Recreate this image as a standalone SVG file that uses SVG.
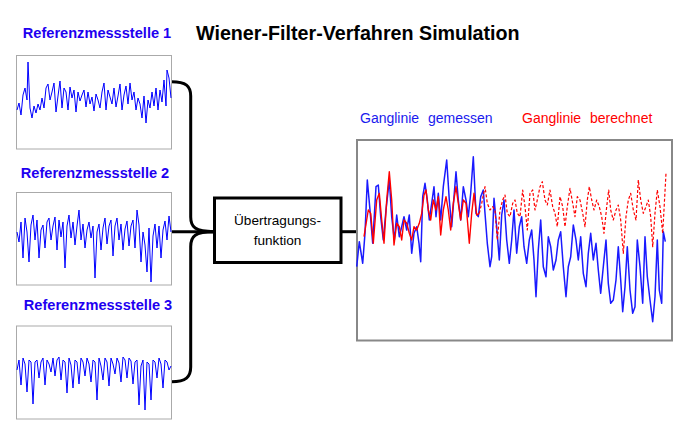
<svg xmlns="http://www.w3.org/2000/svg" width="689" height="443" viewBox="0 0 689 443">
<style>
.lbl{font-family:"Liberation Sans",Arial,sans-serif;font-weight:bold;font-size:14.6px;fill:#1E00F0;text-anchor:middle}
.title{font-family:"Liberation Sans",Arial,sans-serif;font-weight:bold;font-size:19.7px;fill:#000}
.leg{font-family:"Liberation Sans",Arial,sans-serif;font-size:14px;word-spacing:5px}
.frame{fill:#fff;stroke:#aaa;stroke-width:1}
.bigframe{fill:#fff;stroke:#888;stroke-width:2}
.wave{fill:none;stroke:#0000FF;stroke-width:1;stroke-linejoin:round}
.conn{fill:none;stroke:#000;stroke-width:3}
.boxt{font-family:"Liberation Sans",Arial,sans-serif;font-size:13.6px;fill:#000;text-anchor:middle}
</style>
<rect width="689" height="443" fill="#fff"/>
<text class="title" x="196" y="40">Wiener-Filter-Verfahren Simulation</text>

<g id="connectors">
<path class="conn" d="M171.5,81.7 C186,81.7 190.7,86 190.7,96 L190.7,217 C190.7,227 195,231.7 214,231.7"/>
<path class="conn" d="M171.5,381.7 C186,381.7 190.7,377 190.7,367 L190.7,246.7 C190.7,236 195,231.7 214,231.7"/>
<path class="conn" d="M171.5,231.7 L214,231.7"/>
<path class="conn" d="M341,231.7 L357,231.7"/>
</g>

<g id="ref1">
<text class="lbl" x="97" y="38">Referenzmessstelle 1</text>
<rect class="frame" x="16.5" y="55.5" width="155" height="93.5"/>
<polyline class="wave" points="17,110 19,103 21,115 23,95 25,88 27,100 28,62 30,108 32,118 34,106 36,113 38,104 40,110 42,98 44,108 46,88 48,84 50,100 52,92 54,83 56,112 58,96 60,81 62,108 64,88 66,92 68,110 70,87 72,98 74,90 76,112 78,92 80,101 82,95 84,90 86,107 88,92 90,104 92,97 94,111 96,94 98,100 100,108 102,92 104,83 106,110 108,90 110,97 112,104 114,88 116,107 118,96 120,84 122,110 124,95 126,86 128,104 130,83 132,100 134,92 136,110 138,98 140,104 142,118 144,96 146,123 148,100 150,108 152,92 154,106 156,88 158,110 160,90 162,102 164,80 166,106 167,70 169,78 171,98"/>
</g>

<g id="ref2">
<text class="lbl" x="95" y="178">Referenzmessstelle 2</text>
<rect class="frame" x="16.5" y="192.5" width="155" height="92.5"/>
<polyline class="wave" points="17,232 19,242 21,222 23,258 25,218 27,232 29,262 31,225 33,215 35,240 37,220 39,258 41,230 43,225 45,248 47,222 49,218 51,240 53,226 55,217 57,250 59,220 61,237 63,222 65,268 67,226 69,215 71,238 73,222 75,245 77,226 79,210 81,240 83,224 85,248 87,230 89,222 91,238 93,226 95,278 97,232 99,224 101,250 103,228 105,218 107,244 109,226 111,220 113,256 115,226 117,218 119,240 121,224 123,250 125,229 127,221 129,246 131,226 133,220 135,248 137,210 139,225 141,262 143,232 145,245 147,272 149,228 151,282 153,236 155,224 157,248 159,226 161,258 163,230 165,221 167,240 169,216 171,232"/>
</g>

<g id="ref3">
<text class="lbl" x="98" y="310">Referenzmessstelle 3</text>
<rect class="frame" x="16.5" y="326" width="155" height="93"/>
<polyline class="wave" points="17,370 19,360 21,385 23,358 25,364 27,392 29,360 31,362 33,404 35,362 37,360 39,378 41,362 43,358 45,385 47,360 49,364 51,372 53,358 55,376 57,360 59,357 61,380 63,360 65,362 67,393 69,358 71,365 73,388 75,360 77,362 79,384 81,358 83,362 85,376 87,358 89,364 91,382 93,360 95,362 97,400 99,358 101,366 103,380 105,358 107,362 109,386 111,358 113,364 115,374 117,358 119,363 121,382 123,357 125,360 127,378 129,358 131,361 133,384 135,362 137,360 139,405 141,366 143,360 145,410 147,362 149,364 151,400 153,360 155,362 157,378 159,358 161,364 163,388 165,360 167,362 169,370 171,366"/>
</g>

<g id="transfer">
<rect x="214.5" y="198" width="126.5" height="64.5" fill="#fff" stroke="#000" stroke-width="3"/>
<text class="boxt" x="277.5" y="225">Übertragungs-</text>
<text class="boxt" x="277.5" y="245">funktion</text>
</g>

<g id="result">
<text class="leg" x="360" y="123" fill="#1a1aee">Ganglinie gemessen</text>
<text class="leg" x="522" y="123" fill="#ff0000">Ganglinie berechnet</text>
<rect class="bigframe" x="357" y="140" width="315" height="200.5"/>
<polyline fill="none" stroke="#1a1aff" stroke-width="1.5" stroke-linejoin="round" points="356.7,266.7 359.3,241.7 362.7,263.3 365,233.3 367.3,180 370,210 372.7,243.3 376,186.7 378.3,185 380.7,216.7 383.3,240 386,210 389.3,180 391.7,216.7 394.3,240 396.7,215 399.3,236.7 401.7,226.7 404,216.7 406.7,230 409.3,215 411.7,253.3 414,233.3 416.7,226.7 419,243.3 420.7,261.7 422.7,196.7 425,183.3 427.3,200 429.3,220 431.7,203.3 434,186.7 436,216.7 438.3,193.3 440.7,220 443.3,186.7 446.7,160 449.3,200 451.7,226.7 454,196.7 456,171.7 458.3,200 460.7,220 463.3,186.7 466,200 468.3,216.7 470.7,193.3 473.3,156.7 476,213.3 478.3,216.7 480.7,196.7 483.3,190 485,213.3 487.3,243.3 490,266.7 491.7,256.7 494,198.3 496.7,226.7 499.3,260 501.7,215 504,200 506.7,240 509.3,263.3 511.7,240 514,210 516.7,253.3 519.3,226.7 521.7,216.7 524,246.7 526.7,263.3 529.3,240 531.7,230 534,260 536,296.7 538.3,250 540.7,220 543.3,266.7 546,276.7 548.3,236.7 550.7,246.7 553.3,270 556,260 558.3,240 560.7,231.7 563.3,266.7 566,296.7 568.3,266.7 570.7,256.7 573.3,225 576,240 578.3,260 580.7,236.7 583.3,273.3 586,286.7 588.3,253.3 590.7,233.3 593.3,260 596,243.3 598.3,270 600.7,293.3 603.3,266.7 606,240 608.3,283.3 610.7,303.3 613.3,300 616,280 618.3,246.7 620.7,280 622.7,311.7 625,286.7 627.3,246.7 630,290 632.7,313.3 635,306.7 637.3,240 640,266.7 642.7,303.3 645,236.7 647.3,276.7 650,300 652.7,321.7 655,296.7 657.3,240 659.3,290 661.7,303.3 663.3,231.7 665.3,241.7"/>
<polyline fill="none" stroke="#ff0000" stroke-width="1.4" stroke-linejoin="round" points="364,236.7 368.3,210 370.7,213.3 373.3,243.3 376.7,200 379.3,193.3 381.7,220 384,243.3 386.7,200 389.3,171.7 391.7,200 394,245 396.7,223.3 399.3,226.7 401.7,240 404,220 406.7,223.3 409.3,233.3 411.7,240 414,226.7 416.7,230 419.3,223.3 421.7,213.3 424,195 426,190 428.3,210 430.7,220 433.3,200 436,210 438.3,196.7 440.7,235 443.3,210 446,196.7 448.3,210 450.7,230 453.3,203.3 456,186.7 458.3,203.3 460.7,220 463.3,200 466,203.3 469.3,243.3 471.7,213.3 474,193.3 476.7,215 479.3,213.3"/>
<polyline fill="none" stroke="#ff0000" stroke-width="1.2" stroke-dasharray="3,2" stroke-linejoin="round" points="479.3,213.3 481.7,203.3 485,186.7 487.3,203.3 490,210 492.7,206.7 495,210 497.3,240 500,210 502.7,200 505,195 507.3,213.3 510,216.7 512.7,203.3 515,200 517.3,213.3 520,216.7 522.7,190 525,206.7 527.3,230 530,193.3 532.7,190 535,210 537.3,200 540,186.7 542.3,181.7 545,200 547.3,205 550,190 552.7,206.7 555,213.3 557.3,226.7 560,196.7 562.7,206.7 565,226.7 567.3,206.7 570,188.3 572.7,203.3 575,216.7 577.3,196.7 580,200 582.7,213.3 585,226.7 587.3,200 589.3,186.7 591.7,200 594,210 596.7,200 599.3,206.7 601.7,216.7 604,233.3 606.7,206.7 608.7,190 610.7,210 613.3,220 616,210 618.3,205 620.7,220 623.3,253.3 626,216.7 628.3,200 630.7,193.3 633.3,210 636,220 638.3,180 640.7,200 643.3,213.3 646,206.7 648.3,200 650.7,216.7 652.7,246.7 655,213.3 657.3,190 660,206.7 662.7,233.3 666,173.3"/>
</g>
</svg>
